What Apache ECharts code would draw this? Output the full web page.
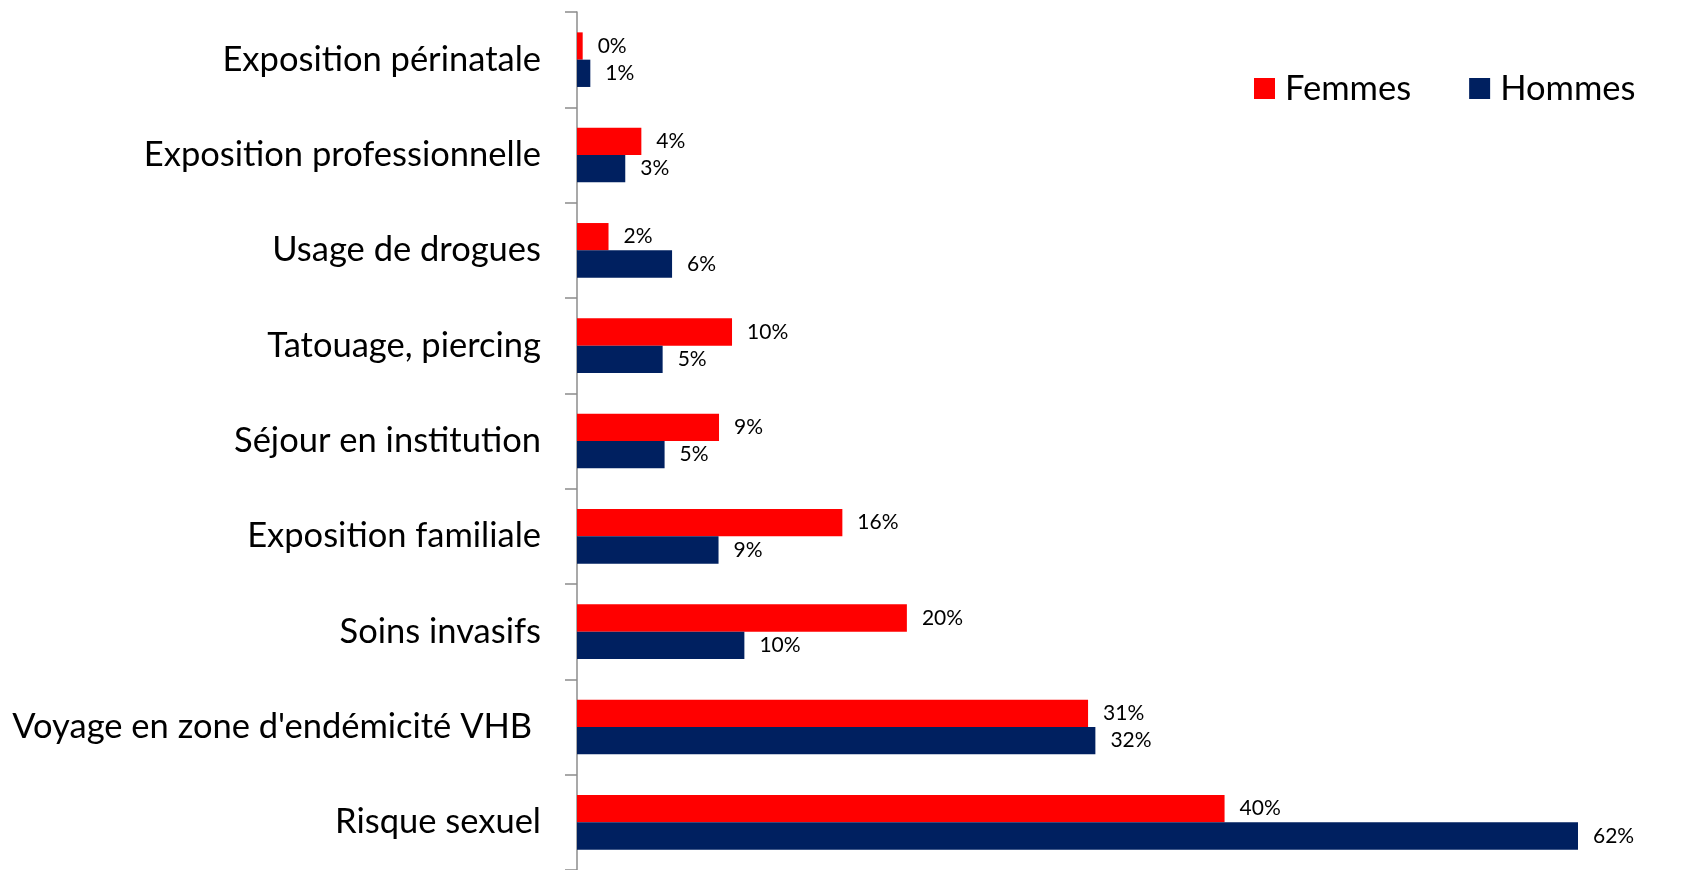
<!DOCTYPE html>
<html>
<head>
<meta charset="utf-8">
<script src="https://cdn.jsdelivr.net/npm/echarts@6/dist/echarts.min.js"></script>
<style>
html,body{margin:0;padding:0;background:#fff;}
#c{width:1704px;height:870px;}
</style>
</head>
<body>
<div id="c"></div>
<script>
const categories = ["Exposition périnatale","Exposition professionnelle","Usage de drogues","Tatouage, piercing","Séjour en institution","Exposition familiale","Soins invasifs","Voyage en zone d'endémicité VHB ","Risque sexuel"];
const seriesNames = ["Femmes","Hommes"];
const femmes = [0.35, 3.96, 1.94, 9.54, 8.74, 16.33, 20.3, 31.45, 39.85];
const hommes = [0.82, 2.97, 5.85, 5.27, 5.39, 8.71, 10.3, 31.9, 61.6];

const FONT = "Lato";
const chart = echarts.init(document.getElementById('c'), null, {renderer:'canvas'});
const labelCfg = {
  show:true, position:'right', distance:15,
  fontFamily:FONT, fontSize:21, color:'#000',
  formatter: p => Math.round(p.value) + '%'
};
chart.setOption({
  animation:false,
  backgroundColor:'#fff',
  grid:{left:577, right:70.75, top:12, bottom:-5, containLabel:false},
  legend:{
    data:seriesNames, left:1254, top:71, padding:0, itemWidth:21, itemHeight:21, itemGap:58,
    icon:'rect',
    textStyle:{fontFamily:FONT, fontSize:34.5, color:'#000', padding:[0,0,0,5]}
  },
  xAxis:{type:'value', min:0, max:65, show:false},
  yAxis:{
    type:'category', data:categories, inverse:true,
    axisLine:{show:true, lineStyle:{color:'#8c8c8c', width:1.5}},
    axisTick:{show:true, length:12, lineStyle:{color:'#8c8c8c', width:1.5}},
    axisLabel:{fontFamily:FONT, fontSize:34.5, color:'#000', margin:36},
    splitLine:{show:false}
  },
  series:[
    {name:seriesNames[0], type:'bar', data:femmes, barWidth:27.3, barGap:'0%',
     itemStyle:{color:'#FF0000'}, label:labelCfg},
    {name:seriesNames[1], type:'bar', data:hommes, barWidth:27.3, barGap:'0%',
     itemStyle:{color:'#002060'}, label:labelCfg}
  ]
});
</script>
</body>
</html>
